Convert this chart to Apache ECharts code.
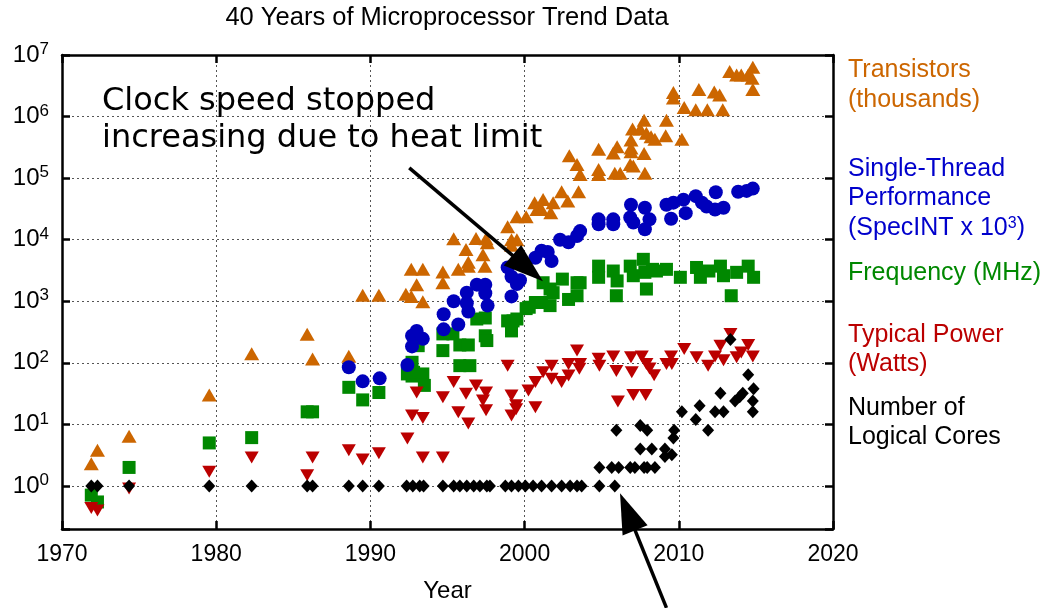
<!DOCTYPE html>
<html><head><meta charset="utf-8">
<script src="https://cdn.jsdelivr.net/npm/echarts@6/dist/echarts.min.js"></script>
<style>html,body{margin:0;padding:0;background:#fff}#c{width:1047px;height:608px}</style>
</head><body><div id="c"></div>
<script>
// ---------- data (year, value) ----------
const transistors = [
 [1971.9,2.3],[1972.3,3.8],[1974.35,6.4],[1979.55,30],[1982.3,140],[1985.9,290],[1986.25,115],[1988.6,128],
 [1989.5,1250],[1990.55,1250],[1992.3,1300],[1992.65,1200],[1992.65,3300],[1993.0,1850],[1993.4,3300],[1993.4,980],
 [1994.7,3000],[1994.7,2000],[1995.4,10400],[1995.7,3300],[1996.2,6900],[1996.35,4300],[1996.35,3700],[1996.85,10500],
 [1997.3,5700],[1997.43,3700],[1997.58,8900],[1997.5,10400],[1998.9,16200],[1999.15,10000],[1999.5,10000],[1999.15,8100],
 [1999.5,23500],[2000.1,23500],[2000.65,40000],[2001.2,45000],[2001.85,40000],[2000.8,31000],[2001.1,31000],[2001.7,27500],
 [2002.4,60000],[2002.8,42500],[2003.5,60000],[2002.9,230000],[2003.4,166000],[2003.6,115000],[2004.8,295000],[2004.8,138000],
 [2004.8,115000],[2005.75,257000],[2006.0,324000],[2005.85,120000],[2006.2,120000],[2006.9,417000],[2006.9,309000],[2006.9,269000],
 [2006.85,166000],[2007.05,158000],[2007.0,630000],[2007.75,870000],[2007.5,630000],[2007.9,537000],[2008.2,470000],[2008.45,427000],
 [2007.75,251000],[2007.8,120000],[2009.2,870000],[2009.15,490000],[2010.2,427000],[2009.65,2450000],[2009.65,2000000],[2010.35,1410000],
 [2011.1,1290000],[2011.3,2750000],[2011.85,1290000],[2012.3,2510000],[2012.65,2240000],[2012.85,1290000],[2013.3,5370000],[2013.75,4730000],
 [2014.05,4730000],[2014.5,4730000],[2014.8,6300000],[2014.75,4200000],[2014.8,2750000]
];
const performance = [
 [1988.6,85],[1989.5,50],[1990.6,56],[1992.4,92],[1992.7,185],[1992.7,276],[1993.0,330],[1993.4,245],[1994.75,615],[1994.75,350],
 [1995.4,1000],[1995.7,420],[1996.25,1380],[1996.25,930],[1996.35,680],[1996.9,1860],[1997.45,1860],[1997.45,1350],[1997.6,850],
 [1998.9,3550],[1999.15,1200],[1999.15,2500],[1999.5,1900],[1999.7,2200],[2000.7,5100],[2001.1,6600],[2001.5,6300],[2001.75,4500],
 [2002.3,10000],[2002.85,9100],[2003.4,11500],[2003.6,13800],[2004.8,21400],[2004.8,17800],[2005.75,21400],[2005.75,17800],
 [2006.9,37000],[2006.85,22900],[2007.05,19000],[2007.8,33000],[2008.1,21400],[2007.8,14800],[2009.2,37000],[2009.65,40000],
 [2010.3,44700],[2009.5,21900],[2010.45,27000],[2011.1,51000],[2011.5,40000],[2011.8,34700],[2012.35,31000],[2012.4,59000],
 [2012.9,33000],[2013.85,60000],[2014.4,62000],[2014.8,67600]
];
const frequency = [
 [1971.9,0.71],[1972.3,0.55],[1974.35,2.0],[1979.55,5.0],[1982.3,6.1],[1985.9,16],[1986.25,16],[1988.6,40],[1989.5,25],[1990.55,33],
 [1992.4,66],[1992.7,102],[1992.7,61],[1992.8,70],[1993.1,190],[1993.4,66],[1993.5,43],[1994.7,158],[1994.7,295],[1995.35,295],
 [1995.8,195],[1996.35,195],[1995.8,90],[1996.45,90],[1996.9,515],[1997.45,535],[1997.45,275],[1997.55,230],[1998.9,480],[1999.15,330],
 [1999.25,480],[1999.5,515],[2000.1,760],[2000.3,800],[2000.7,955],[2001.1,955],[2001.65,850],[2001.2,2000],[2001.65,1580],[2001.85,1380],
 [2002.45,2290],[2002.85,1070],[2003.4,1230],[2003.4,2000],[2003.6,2000],[2004.8,3720],[2004.8,2450],[2005.75,3100],[2006.0,2140],
 [2005.95,1230],[2006.85,3720],[2007.05,2600],[2007.7,4800],[2007.8,2950],[2007.9,1580],[2008.3,3300],[2008.55,3100],[2009.2,3300],
 [2010.1,2450],[2011.15,3540],[2011.4,2450],[2011.95,3100],[2012.7,3720],[2012.9,2600],[2013.4,1230],[2013.75,2950],[2014.5,3720],[2014.85,2450]
];
const power = [
 [1971.9,0.44],[1972.3,0.40],[1974.35,0.91],[1979.55,1.7],[1982.3,2.9],[1985.9,1.5],[1986.25,2.9],[1988.6,3.8],[1989.5,2.7],[1990.55,3.4],
 [1992.4,5.9],[1992.7,14],[1993.0,33],[1993.4,2.9],[1993.4,12.7],[1994.7,2.9],[1994.7,27.6],[1995.4,49],[1995.7,15.8],[1996.2,31.6],
 [1996.35,10.3],[1996.85,43],[1997.3,24.5],[1997.5,33],[1997.5,17],[1998.9,90],[1999.15,29.5],[1999.15,14],[1999.45,20.4],[1999.45,17.6],
 [2000.25,35.5],[2000.7,49],[2000.7,19],[2001.2,70],[2001.75,55],[2001.75,90],[2002.4,49],[2002.85,62],[2002.85,96],[2003.4,158],
 [2003.55,80],[2003.6,96],[2004.8,116],[2004.85,90],[2005.75,127],[2005.95,74],[2006.05,23.6],[2006.9,123],[2006.95,70],[2007.05,30],
 [2007.6,127],[2007.9,96],[2008.1,81],[2008.4,63],[2007.85,30],[2009.2,96],[2009.5,127],[2009.55,96],[2010.35,168],[2011.15,123],
 [2011.9,90],[2012.35,127],[2012.7,190],[2012.9,110],[2013.35,295],[2013.75,123],[2014.05,147],[2014.5,195],[2014.8,127]
];
const cores = [
 [1971.9,1],[1972.3,1],[1974.35,1],[1979.55,1],[1982.3,1],[1985.9,1],[1986.25,1],[1988.6,1],[1989.5,1],[1990.55,1],
 [1992.35,1],[1992.75,1],[1993.2,1],[1993.45,1],[1994.7,1],[1995.4,1],[1995.8,1],[1996.25,1],[1996.7,1],[1997.1,1],
 [1997.55,1],[1997.75,1],[1998.75,1],[1999.15,1],[1999.6,1],[2000.05,1],[2000.55,1],[2001.1,1],[2001.75,1],[2002.4,1],
 [2002.95,1],[2003.4,1],[2003.7,1],[2004.85,1],[2005.85,1],
 [2004.85,2],[2005.65,2],[2006.1,2],[2006.85,2],[2007.15,2],[2007.75,2],[2007.95,2],[2008.45,2],
 [2005.95,8],[2007.5,9.6],[2007.95,8],[2007.5,4],[2008.25,4],[2009.1,4],[2009.1,3],[2009.55,3.2],[2009.65,6],[2009.7,8],
 [2010.2,16],[2011.1,12],[2011.35,20],[2011.9,8],[2012.35,16],[2012.9,16],[2012.7,32],[2013.35,240],[2013.65,24],[2013.95,28],
 [2014.15,32],[2014.5,64],[2014.85,38],[2014.8,24],[2014.8,16]
];
const xTicks = [1970, 1980, 1990, 2000, 2010, 2020];
const chartTitle = '40 Years of Microprocessor Trend Data';
const xName = 'Year';
const legendLines = [
  ['Transistors', '#cc6600'], ['(thousands)', '#cc6600'],
  ['Single-Thread', '#0000cc'], ['Performance', '#0000cc'], ['(SpecINT x 10{s|3})', '#0000cc'],
  ['Frequency (MHz)', '#008800'],
  ['Typical Power', '#bb0000'], ['(Watts)', '#bb0000'],
  ['Number of', '#000000'], ['Logical Cores', '#000000']
];
const legendY = [70, 100, 169, 198, 228, 273, 335, 364, 408, 437];
const noteLines = ['Clock speed stopped', 'increasing due to heat limit'];
// arrows in data coordinates: [tail, tip]
const arrows = [
  [[1992.52, 146600], [2001.19, 2120]],
  [[2009.2, 0.0105], [2006.19, 0.76]]
];

const F = '"Liberation Sans", Arial, Helvetica, sans-serif';
const colors = { tr: '#cc6600', pf: '#0000bb', fq: '#008800', pw: '#bb0000', co: '#000000' };

const chart = echarts.init(document.getElementById('c'), null, { renderer: 'canvas' });
const grid = { left: 62, right: 214, top: 55, bottom: 78 };
const axisLine = { show: true, lineStyle: { color: '#000', width: 2.5 } };
const axisTick = { show: true, inside: true, length: 8, lineStyle: { color: '#000', width: 2.5 } };
const split = { show: true, lineStyle: { color: '#555', width: 1, type: [2, 3] } };

function yFmt(v) {
  const e = Math.log10(v), r = Math.round(e);
  if (Math.abs(e - r) > 1e-6) return '';
  return '{b|10}{s|' + r + '}';
}

chart.setOption({
  animation: false,
  backgroundColor: '#fff',
  grid: grid,
  xAxis: [
    { type: 'value', min: xTicks[0], max: xTicks[xTicks.length - 1], interval: 10, position: 'bottom',
      axisLine: axisLine, axisTick: axisTick, splitLine: split,
      axisLabel: { fontFamily: F, fontSize: 23, color: '#000', margin: 14, formatter: v => String(v) },
      name: xName, nameLocation: 'middle', nameGap: 50,
      nameTextStyle: { fontFamily: F, fontSize: 24, color: '#000' } },
    { type: 'value', min: xTicks[0], max: xTicks[xTicks.length - 1], interval: 10, position: 'top',
      axisLine: axisLine, axisTick: axisTick, splitLine: { show: false }, axisLabel: { show: false } }
  ],
  yAxis: [
    { type: 'log', logBase: 10, min: 0.2, max: 1e7, splitNumber: 8, position: 'left',
      axisLine: axisLine, axisTick: axisTick, splitLine: split,
      axisLabel: { margin: 13, formatter: yFmt, color: '#000',
        rich: { b: { fontFamily: F, fontSize: 24, color: '#000', lineHeight: 28 },
                s: { fontFamily: F, fontSize: 17, color: '#000', verticalAlign: 'top', lineHeight: 16 } } } },
    { type: 'log', logBase: 10, min: 0.2, max: 1e7, splitNumber: 8, position: 'right',
      axisLine: axisLine, axisTick: axisTick, splitLine: { show: false }, axisLabel: { show: false } }
  ],
  series: [
    { type: 'scatter', name: 'Transistors', data: transistors, symbol: 'triangle', symbolSize: [15, 13],
      itemStyle: { color: colors.tr, opacity: 1 } },
    { type: 'scatter', name: 'Frequency', data: frequency, symbol: 'rect', symbolSize: 13,
      itemStyle: { color: colors.fq, opacity: 1 } },
    { type: 'scatter', name: 'Performance', data: performance, symbol: 'circle', symbolSize: 14,
      itemStyle: { color: colors.pf, opacity: 1 } },
    { type: 'scatter', name: 'Power', data: power, symbol: 'triangle', symbolRotate: 180, symbolSize: [14, 12],
      itemStyle: { color: colors.pw, opacity: 1 } },
    { type: 'scatter', name: 'Cores', data: cores, symbol: 'diamond', symbolSize: [12, 13],
      itemStyle: { color: colors.co, opacity: 1 } }
  ]
});

// graphics: texts + arrows (arrow positions computed through the chart's own scales)
const g = [];
g.push({ type: 'text', x: 447, y: 18, z: 100,
  style: { text: chartTitle, font: '25.5px ' + F, fill: '#000', align: 'center', verticalAlign: 'middle' } });
legendLines.forEach((l, i) => {
  g.push({ type: 'text', x: 848, y: legendY[i], z: 100,
    style: { text: l[0], font: '25px ' + F, fill: l[1], align: 'left', verticalAlign: 'middle',
      rich: { s: { fontSize: 16, fontFamily: F, fill: l[1], verticalAlign: 'top', lineHeight: 14 } } } });
});
noteLines.forEach((t, i) => {
  g.push({ type: 'text', x: 102, y: 102 + i * 37, z: 100,
    style: { text: t, font: '32px "DejaVu Sans", sans-serif', fill: '#000', align: 'left', verticalAlign: 'middle' } });
});
arrows.forEach(a => {
  const p0 = chart.convertToPixel({ gridIndex: 0 }, a[0]);
  const p1 = chart.convertToPixel({ gridIndex: 0 }, a[1]);
  const dx = p1[0] - p0[0], dy = p1[1] - p0[1], len = Math.hypot(dx, dy);
  const ux = dx / len, uy = dy / len, L = 40, W = 27;
  const bx = p1[0] - ux * L, by = p1[1] - uy * L;
  g.push({ type: 'line', z: 110, shape: { x1: p0[0], y1: p0[1], x2: bx + ux * 4, y2: by + uy * 4 },
    style: { stroke: '#000', lineWidth: 3.5 } });
  g.push({ type: 'polygon', z: 110, shape: { points: [
      [p1[0], p1[1]], [bx - uy * W / 2, by + ux * W / 2], [bx + uy * W / 2, by - ux * W / 2]] },
    style: { fill: '#000' } });
});
chart.setOption({ graphic: g });
</script>
</body></html>
